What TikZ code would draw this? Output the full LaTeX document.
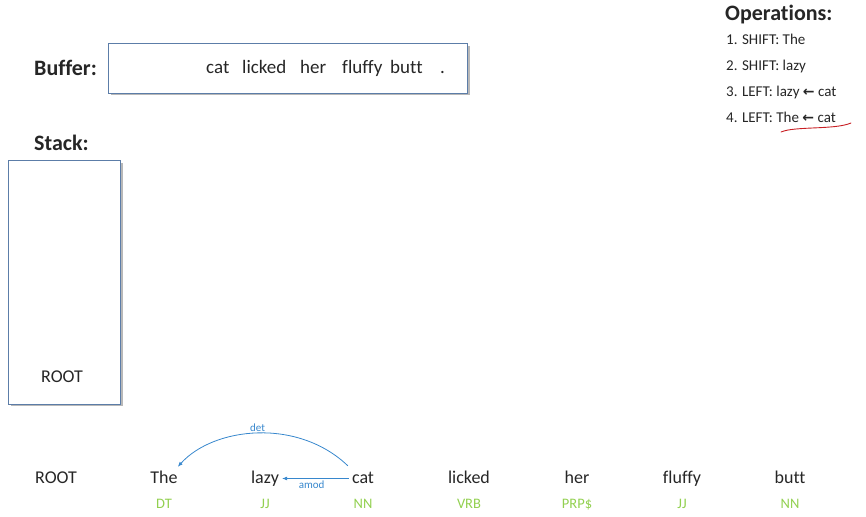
\documentclass[tikz,border=0pt]{standalone}
\usepackage{fontspec}
\setmainfont{Carlito}[Ligatures=NoCommon]
\newfontfamily\arrowfont{DejaVu Sans}
\usetikzlibrary{positioning,arrows.meta,calc}
\definecolor{boxline}{RGB}{92,125,168}
\definecolor{arcblue}{RGB}{55,135,205}
\definecolor{taggreen}{RGB}{146,208,80}
\definecolor{inkred}{RGB}{200,30,35}
\definecolor{ink}{RGB}{38,38,38}
\tikzset{
   title/.style={font=\fontsize{22}{24}\selectfont\bfseries, text=ink, inner sep=0pt, anchor=base west},
   bufword/.style={font=\fontsize{19}{21}\selectfont, text=ink, inner sep=0pt, anchor=base west},
   opline/.style={font=\fontsize{15}{17}\selectfont, text=ink, inner sep=0pt, anchor=base west},
   word/.style={font=\fontsize{18}{20}\selectfont, text=ink, inner sep=3pt, anchor=base,
      text height=12pt, text depth=3pt},
   tag/.style={font=\fontsize{14.5}{16}\selectfont, text=taggreen, inner sep=0pt,
      text height=9pt, text depth=2pt},
   panel/.style={draw=boxline, line width=0.8pt, fill=white},
   shade/.style={fill=black!28},
   deparc/.style={draw=arcblue, line width=0.8pt, -{Latex[length=5pt,width=4pt]}},
   deplabel/.style={font=\fontsize{11}{12}\selectfont, text=arcblue, inner sep=1pt},
}
\newcommand{\larr}{{\arrowfont\bfseries\fontsize{14}{16}\selectfont ←}}

\begin{document}
\begin{tikzpicture}[x=1pt,y=1pt]
      \useasboundingbox (0,0) rectangle (866,516);

      \node[title] (buflabel) at (34,440) {Buffer:};
      \fill[shade] (110.5,420.5) rectangle (469.5,470);
      \draw[panel] (108,473) rectangle (467,423);
      \node[bufword] (b1) at (206,442) {cat};
      \node[bufword] (b2) at (242,442) {licked};
      \node[bufword] (b3) at (300,442) {her};
      \node[bufword] (b4) at (342,442) {fluffy};
      \node[bufword] (b5) at (390,442) {butt};
      \node[bufword] (b6) at (440,442) {.};

      \node[title] (stacklabel) at (34,365) {Stack:};
      \fill[shade] (10.5,109.5) rectangle (122.5,353);
      \draw[panel] (8,356) rectangle (120,112);
      \node[word] (s0) at (62,133) {ROOT};

      \node[title] (oplabel) at (725,495) {Operations:};
      \node[opline] (op1) at (726,471) {1. SHIFT: The};
      \node[opline] (op2) at (726,445) {2. SHIFT: lazy};
      \node[opline] (op3) at (726,419) {3. LEFT: lazy \larr{} cat};
      \node[opline] (op4) at (726,393) {4. LEFT: The \larr{} cat};
      \draw[inkred, line width=0.9pt, line cap=round]
         (781,384) .. controls (795,390) and (835,386) .. (851,393);

      \node[word] (w0) at (56,33) {ROOT};
      \node[word] (w1) at (164,33) {The};
      \node[word] (w2) at (265,33) {lazy};
      \node[word] (w3) at (363,33) {cat};
      \node[word] (w4) at (469,33) {licked};
      \node[word] (w5) at (577,33) {her};
      \node[word] (w6) at (682,33) {fluffy};
      \node[word] (w7) at (790,33) {butt};

      \node[tag, below=10pt of w1] (t1) {DT};
      \node[tag, below=10pt of w2] (t2) {JJ};
      \node[tag, below=10pt of w3] (t3) {NN};
      \node[tag, below=10pt of w4] (t4) {VRB};
      \node[tag, below=10pt of w5] (t5) {PRP\$};
      \node[tag, below=10pt of w6] (t6) {JJ};
      \node[tag, below=10pt of w7] (t7) {NN};

      \draw[deparc] (w3.west) -- node[deplabel, below right=1pt and -18pt] (amod) {amod} (w2.east);
      \draw[deparc] ($(w3.north west)+(-1,2)$) .. controls +(-50,48) and +(36,40) ..
         node[deplabel, above=0pt, pos=0.5] (det) {det} ($(w1.north east)+(-3,1)$);
   \end{tikzpicture}
\end{document}
